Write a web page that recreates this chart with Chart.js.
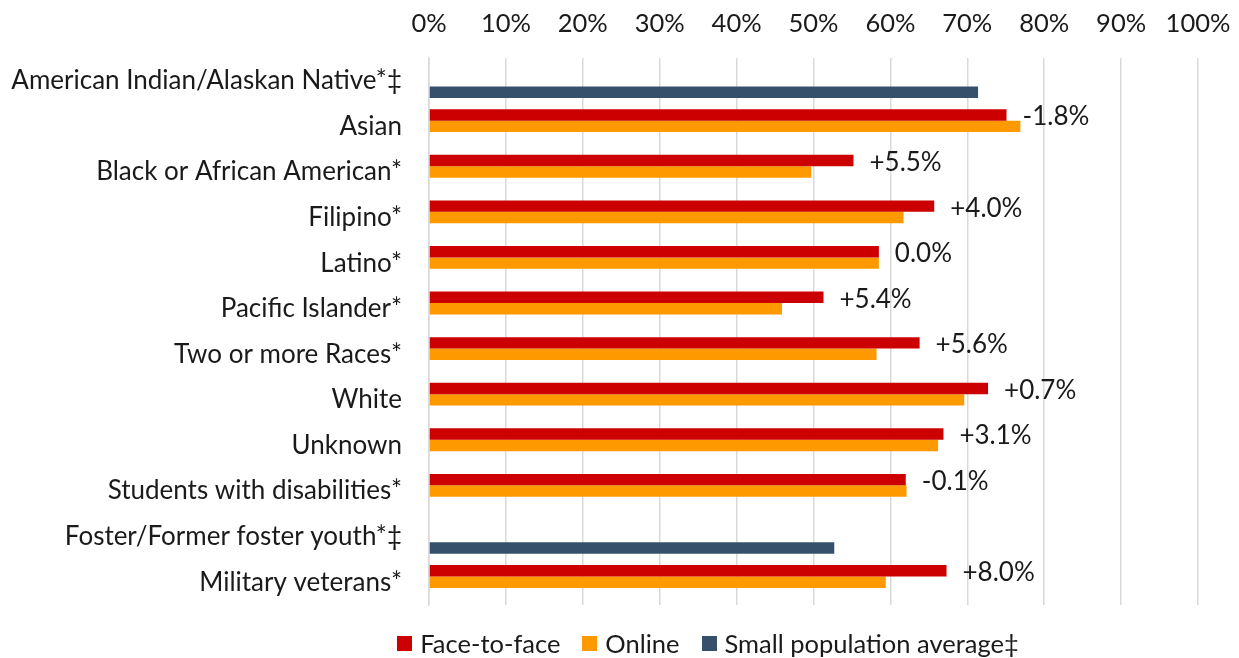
<!DOCTYPE html>
<html>
<head>
<meta charset="utf-8">
<script src="https://cdn.jsdelivr.net/npm/chart.js@4/dist/chart.umd.min.js"></script>
<style>
  html, body { margin: 0; padding: 0; background: #fff; }
  #wrap { position: relative; width: 1239px; height: 658px; }
  #legend {
    position: absolute; left: 0; width: 1239px; top: 628px; height: 30px;
    display: flex; justify-content: center; align-items: center;
    font-family: Lato, sans-serif; font-size: 25.5px; color: #1a1a1a;
    padding-left: 177px; box-sizing: border-box;
  }
  #legend .item { display: flex; align-items: center; margin: 0 11px; }
  #legend .box { width: 15px; height: 15px; margin-right: 8px; }
</style>
</head>
<body>
<div id="wrap">
  <canvas id="chart" width="1239" height="658"></canvas>
  <div id="legend"></div>
</div>
<script>
// Categories (top to bottom)
const categories = [
  'American Indian/Alaskan Native*‡',
  'Asian',
  'Black or African American*',
  'Filipino*',
  'Latino*',
  'Pacific Islander*',
  'Two or more Races*',
  'White',
  'Unknown',
  'Students with disabilities*',
  'Foster/Former foster youth*‡',
  'Military veterans*'
];

// Success rates, percent
const faceToFace = [null, 75.1, 55.2, 65.7, 58.5, 51.3, 63.8, 72.7, 66.9, 62.0, null, 67.3];
const online     = [null, 76.9, 49.7, 61.7, 58.5, 45.9, 58.2, 69.6, 66.2, 62.1, null, 59.4];
const smallPop   = [71.4, null, null, null, null, null, null, null, null, null, 52.7, null];

// Gap labels shown next to the face-to-face bars
const gapLabels = ['', '-1.8%', '+5.5%', '+4.0%', '0.0%', '+5.4%', '+5.6%', '+0.7%', '+3.1%', '-0.1%', '', '+8.0%'];

const xTicks = [0, 10, 20, 30, 40, 50, 60, 70, 80, 90, 100];

const seriesNames = ['Face-to-face', 'Online', 'Small population average‡'];
const seriesColors = ['#CC0000', '#FF9900', '#36506B'];

const FONT = 'Lato, sans-serif';
const TEXT = '#1a1a1a';

Chart.defaults.font.family = FONT;
Chart.defaults.color = TEXT;

// Draws the gap text to the right of each face-to-face bar
const gapLabelPlugin = {
  id: 'gapLabels',
  afterDatasetsDraw(chart) {
    const ctx = chart.ctx;
    const meta = chart.getDatasetMeta(0);
    ctx.save();
    ctx.font = '26px ' + FONT;
    ctx.fillStyle = TEXT;
    ctx.textAlign = 'left';
    ctx.textBaseline = 'middle';
    meta.data.forEach((bar, i) => {
      if (faceToFace[i] == null || !gapLabels[i]) return;
      ctx.fillText(gapLabels[i], bar.x + 16, bar.y + 2);
    });
    ctx.restore();
  }
};

new Chart(document.getElementById('chart'), {
  type: 'bar',
  data: {
    labels: categories,
    datasets: [
      { label: seriesNames[0], data: faceToFace, backgroundColor: seriesColors[0] },
      { label: seriesNames[1], data: online, backgroundColor: seriesColors[1] },
      { label: seriesNames[2], data: smallPop, backgroundColor: seriesColors[2] }
    ]
  },
  options: {
    indexAxis: 'y',
    responsive: false,
    animation: false,
    layout: { padding: { top: 0, right: 41, bottom: 53, left: 0 } },
    datasets: {
      bar: { barPercentage: 1, categoryPercentage: 0.75 }
    },
    plugins: {
      legend: { display: false },
      tooltip: { enabled: false }
    },
    scales: {
      x: {
        position: 'top',
        min: 0,
        max: 100,
        afterBuildTicks: (scale) => {
          scale.ticks = xTicks.map(v => ({ value: v }));
        },
        afterFit: (scale) => {
          scale.height = 58;
          scale.paddingLeft = 0;
          scale.paddingRight = 0;
        },
        border: { display: false },
        grid: { color: '#d9d9d9', lineWidth: 1.5, drawTicks: false },
        ticks: {
          padding: 19,
          font: { size: 25.5 },
          color: TEXT,
          callback: (v) => v + '%'
        }
      },
      y: {
        afterFit: (scale) => { scale.width = 429; },
        border: { display: true, color: '#d9d9d9', width: 1.5 },
        grid: { display: false, drawTicks: false },
        ticks: {
          padding: 27,
          font: { size: 26 },
          color: TEXT,
          autoSkip: false
        }
      }
    }
  },
  plugins: [gapLabelPlugin]
});

// HTML legend
const legendEl = document.getElementById('legend');
seriesNames.forEach((name, i) => {
  const item = document.createElement('div');
  item.className = 'item';
  const box = document.createElement('span');
  box.className = 'box';
  box.style.background = seriesColors[i];
  const txt = document.createElement('span');
  txt.textContent = name;
  item.appendChild(box);
  item.appendChild(txt);
  legendEl.appendChild(item);
});
</script>
</body>
</html>
